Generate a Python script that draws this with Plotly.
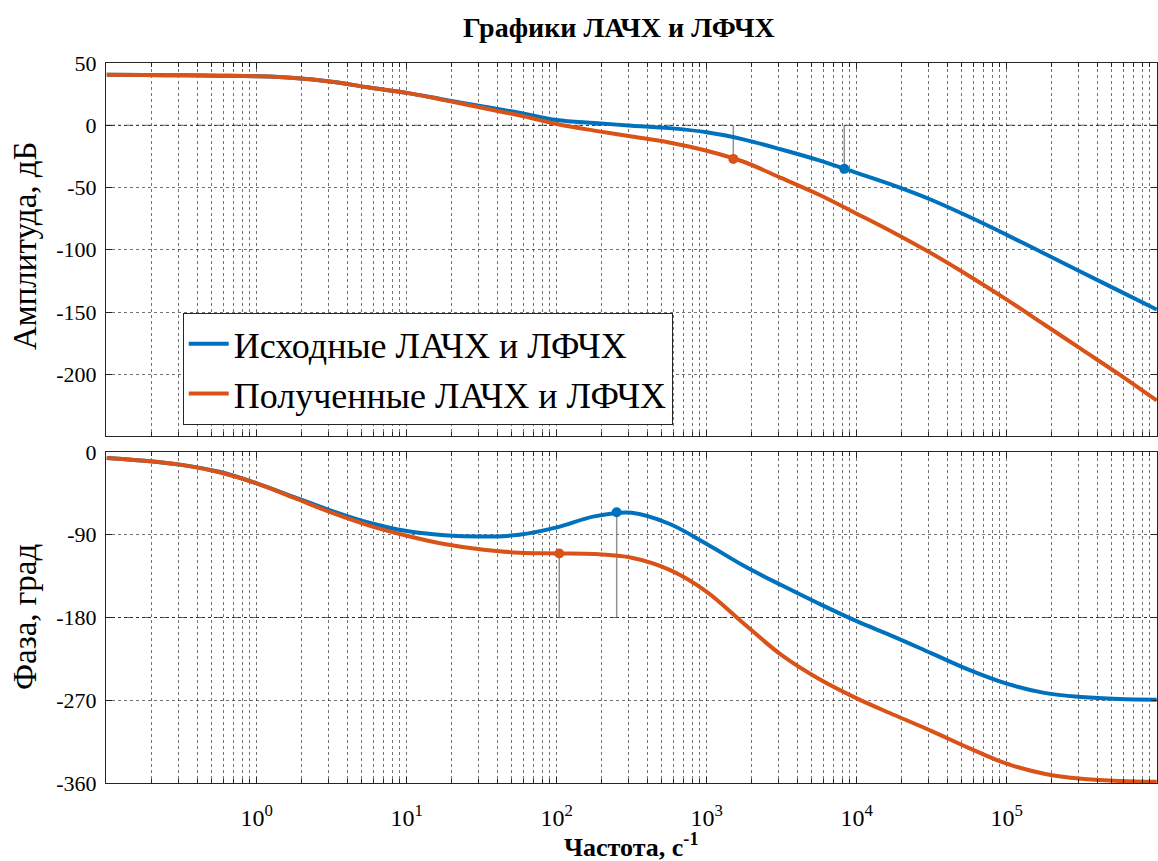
import plotly.graph_objects as go

# ---------------- data ----------------
freq = [0.1, 0.178, 0.316, 0.562, 1, 1.78, 3.16, 5.62, 10, 17.8, 31.6, 56.2,
        100, 178, 316, 562, 1000, 1780, 3160, 5620, 1e4, 1.78e4, 3.16e4, 5.62e4,
        1e5, 1.78e5, 3.16e5, 5.62e5, 1e6]

mag_orig = [40.5, 40.3, 40.1, 39.8, 39.3, 38.0, 35.0, 30.3, 26.0, 20.5, 15.2, 10.0,
            4.2, 1.8, -0.3, -2.3, -5.6, -11.5, -19.5, -28.2, -38.3, -48.5, -60.0,
            -73.5, -88.0, -103.0, -118.0, -133.0, -148.0]
mag_new = [40.5, 40.3, 40.1, 39.8, 39.3, 38.0, 35.0, 30.3, 26.0, 20.2, 14.0, 8.0,
           1.0, -4.3, -9.0, -13.8, -20.5, -29.5, -42.5, -55.8, -71.0, -86.5, -103.0,
           -121.0, -140.0, -160.0, -180.0, -200.0, -221.0]

phase_orig = [-6.5, -9.5, -14.0, -21.5, -34.0, -49.0, -64.0, -77.0, -86.0, -90.5,
              -92.0, -90.0, -82.0, -70.0, -66.0, -78.0, -100.0, -124.0, -145.0,
              -165.0, -184.0, -201.0, -219.0, -237.0, -252.0, -262.0, -266.5,
              -268.7, -269.5]
phase_new = [-6.5, -9.5, -14.0, -22.0, -34.0, -50.0, -66.0, -80.0, -91.0, -100.0,
             -106.0, -109.5, -110.3, -111.0, -115.0, -128.0, -152.0, -187.0, -221.0,
             -247.0, -268.0, -286.0, -303.5, -322.0, -339.0, -350.0, -355.5,
             -357.7, -358.6]

# stability margin points (frequency, value)
gm_orig = (8265, -35.0)     # gain margin point, original
gm_new = (1504, -27.0)      # gain margin point, obtained
pm_orig = (251, -65.5)      # phase point, original
pm_new = (104, -110.3)      # phase point, obtained

names = ["Исходные ЛАЧХ и ЛФЧХ", "Полученные ЛАЧХ и ЛФЧХ"]
x_ticks = [1, 10, 100, 1000, 1e4, 1e5]
x_ticktext = ["10<sup>0</sup>", "10<sup>1</sup>", "10<sup>2</sup>",
              "10<sup>3</sup>", "10<sup>4</sup>", "10<sup>5</sup>"]
mag_ticks = [-200, -150, -100, -50, 0, 50]
mag_ticktext = ["-200", "-150", "-100", "-50", "0", "50"]
phase_ticks = [-360, -270, -180, -90, 0]
phase_ticktext = ["-360", "-270", "-180", "-90", "0"]

BLUE = "#0072BD"
ORANGE = "#D95319"
FONT = "Liberation Serif"
AXC = "#262626"
GRIDC = "rgba(0,0,0,0.55)"

minor_vals = [m * 10 ** e for e in range(-1, 6) for m in range(2, 10)]

fig = go.Figure()

# margin guide lines (gray)
for (f, v) in [gm_new, gm_orig]:
    fig.add_trace(go.Scatter(x=[f, f], y=[0, v], mode="lines",
                             line=dict(color="rgba(120,120,120,0.8)", width=1.5),
                             showlegend=False, hoverinfo="skip", xaxis="x", yaxis="y"))
for (f, v) in [pm_new, pm_orig]:
    fig.add_trace(go.Scatter(x=[f, f], y=[-180, v], mode="lines",
                             line=dict(color="rgba(120,120,120,0.8)", width=1.5),
                             showlegend=False, hoverinfo="skip", xaxis="x2", yaxis="y2"))

# curves
fig.add_trace(go.Scatter(x=freq, y=mag_orig, mode="lines", name=names[0],
                         line=dict(color=BLUE, width=4, shape="spline", smoothing=1),
                         xaxis="x", yaxis="y"))
fig.add_trace(go.Scatter(x=freq, y=mag_new, mode="lines", name=names[1],
                         line=dict(color=ORANGE, width=4, shape="spline", smoothing=1),
                         xaxis="x", yaxis="y"))
fig.add_trace(go.Scatter(x=freq, y=phase_orig, mode="lines", showlegend=False,
                         line=dict(color=BLUE, width=4, shape="spline", smoothing=1),
                         xaxis="x2", yaxis="y2"))
fig.add_trace(go.Scatter(x=freq, y=phase_new, mode="lines", showlegend=False,
                         line=dict(color=ORANGE, width=4, shape="spline", smoothing=1),
                         xaxis="x2", yaxis="y2"))

# margin markers
for (pt, c, ax) in [(gm_orig, BLUE, ("x", "y")), (gm_new, ORANGE, ("x", "y")),
                    (pm_orig, BLUE, ("x2", "y2")), (pm_new, ORANGE, ("x2", "y2"))]:
    fig.add_trace(go.Scatter(x=[pt[0]], y=[pt[1]], mode="markers",
                             marker=dict(color=c, size=10), showlegend=False,
                             xaxis=ax[0], yaxis=ax[1]))

xcommon = dict(type="log", range=[-1.005, 6.002], showline=True, linecolor=AXC,
               linewidth=1.2, mirror="allticks", ticks="inside", ticklen=6,
               tickcolor=AXC, tickvals=x_ticks, ticktext=x_ticktext,
               showgrid=True, gridcolor=GRIDC, griddash="dot", gridwidth=1,
               zeroline=False,
               minor=dict(tickvals=minor_vals, ticks="inside", ticklen=4,
                          tickcolor=AXC, showgrid=True, gridcolor=GRIDC,
                          griddash="dot", gridwidth=1),
               tickfont=dict(family=FONT, size=24, color="black"))
ycommon = dict(showline=True, linecolor=AXC, linewidth=1.2, mirror="allticks",
               ticks="inside", ticklen=6, tickcolor=AXC, showgrid=True,
               gridcolor=GRIDC, griddash="dot", gridwidth=1, zeroline=False,
               tickfont=dict(family=FONT, size=22, color="black"),
               ticklabelstandoff=4)

fig.update_layout(
    width=1158, height=861,
    margin=dict(l=106, r=1, t=63, b=78),
    paper_bgcolor="white", plot_bgcolor="white",
    showlegend=True,
    xaxis=dict(**xcommon, anchor="y", showticklabels=False),
    yaxis=dict(**ycommon, domain=[0.482, 1.0], range=[-249.5, 50],
               tickvals=mag_ticks, ticktext=mag_ticktext, anchor="x"),
    xaxis2=dict(**xcommon, anchor="y2", matches="x", showticklabels=True,
                ticklabelstandoff=13),
    yaxis2=dict(**ycommon, domain=[0.0, 0.4597], range=[-360, 0],
                tickvals=phase_ticks, ticktext=phase_ticktext, anchor="x2"),
    legend=dict(x=0.073, y=0.653, xanchor="left", yanchor="top",
                bgcolor="white", bordercolor=AXC, borderwidth=1,
                font=dict(family=FONT, size=36, color="black"),
                itemwidth=40, tracegroupgap=0),
    title=dict(text="<b>Графики ЛАЧХ и ЛФЧХ</b>", x=0.488, xref="paper",
               xanchor="center", y=1 - 27 / 861, yref="container", yanchor="middle",
               font=dict(family=FONT, size=28, color="black")),
    shapes=[
        dict(type="line", xref="x domain", yref="y", x0=0, x1=1, y0=0, y1=0,
             line=dict(color="rgba(90,90,90,0.9)", width=1.2, dash="dashdot"), layer="below"),
        dict(type="line", xref="x2 domain", yref="y2", x0=0, x1=1, y0=-180, y1=-180,
             line=dict(color="rgba(90,90,90,0.9)", width=1.2, dash="dashdot"), layer="below"),
    ],
    annotations=[
        dict(text="Амплитуда, дБ", xref="paper", yref="paper", x=-0.077,
             y=(783 - 246) / 720, textangle=-90, showarrow=False,
             xanchor="center", yanchor="middle",
             font=dict(family=FONT, size=33, color="black")),
        dict(text="Фаза, град", xref="paper", yref="paper", x=-0.077,
             y=(783 - 617) / 720, textangle=-90, showarrow=False,
             xanchor="center", yanchor="middle",
             font=dict(family=FONT, size=33, color="black")),
        dict(text="<b>Частота, с<sup>-1</sup></b>", xref="paper", yref="paper",
             x=0.5, y=(783 - 846) / 720, showarrow=False, xanchor="center",
             yanchor="middle", font=dict(family=FONT, size=26, color="black")),
    ],
)

fig.write_html("out.html", config={"displayModeBar": False},
               post_script="document.body.style.margin='0';")
